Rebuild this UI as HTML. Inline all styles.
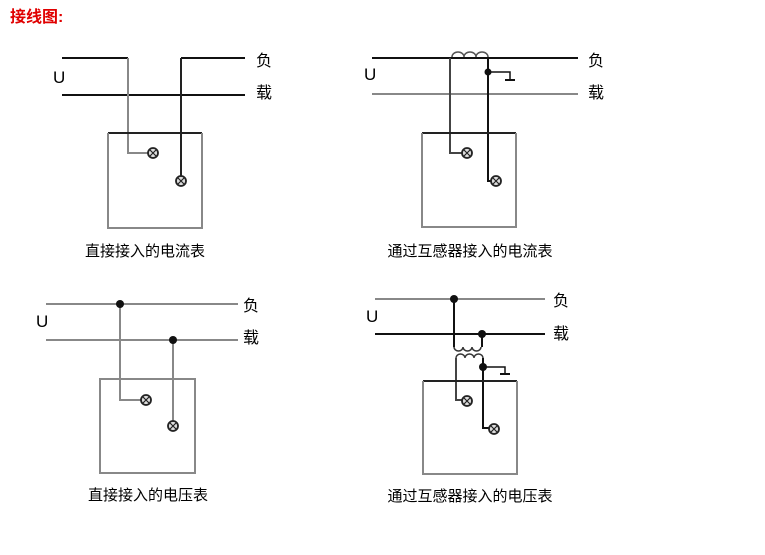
<!DOCTYPE html>
<html><head><meta charset="utf-8"><style>
html,body{margin:0;padding:0;background:#fff;}
svg text{font-family:"Liberation Sans","Noto Sans CJK SC",sans-serif;}
</style></head><body>
<svg width="765" height="550" viewBox="0 0 765 550" xmlns="http://www.w3.org/2000/svg">
<defs>
<g id="term"><circle r="5" fill="#ddd" stroke="#222" stroke-width="1.8"/><path d="M-3,-3L3,3M-3,3L3,-3" stroke="#222" stroke-width="1.2"/></g>
</defs>
<text x="10" y="22" font-size="16" fill="#e00000" font-weight="bold">接线图:</text>

<!-- Diagram 1 -->
<g fill="none" stroke-width="2">
<path d="M62,58H128" stroke="#111"/>
<path d="M181,58H245" stroke="#111"/>
<path d="M62,95H245" stroke="#111"/>
<path d="M128,58V153H150" stroke="#888"/>
<path d="M181,58V177" stroke="#222"/>
<path d="M108,133H202" stroke="#222"/>
<path d="M108,133V228H202V133" stroke="#888"/>
</g>
<use href="#term" x="153" y="153"/><use href="#term" x="181" y="181"/>
<text x="53" y="83" font-size="17">U</text>
<text x="256" y="66" font-size="16">负</text>
<text x="256" y="98" font-size="16">载</text>
<text x="145" y="256" font-size="15" text-anchor="middle">直接接入的电流表</text>

<!-- Diagram 2 -->
<g fill="none" stroke-width="2">
<path d="M372,58H578" stroke="#111"/>
<path d="M372,94H578" stroke="#888"/>
<path d="M452,57a6,5 0 0 1 12,0a6,5 0 0 1 12,0a6,5 0 0 1 12,0" stroke="#555" stroke-width="1.5"/>
<path d="M450,58V153H463" stroke="#444"/>
<path d="M488,58V181H492" stroke="#111"/>
<path d="M488,72H510V79" stroke="#111" stroke-width="1.5"/>
<path d="M505,80H515" stroke="#111" stroke-width="2"/>
<path d="M422,133H516" stroke="#222"/>
<path d="M422,133V227H516V133" stroke="#888"/>
</g>
<circle cx="488" cy="72" r="3.5" fill="#111"/>
<use href="#term" x="467" y="153"/><use href="#term" x="496" y="181"/>
<text x="364" y="80" font-size="17">U</text>
<text x="588" y="66" font-size="16">负</text>
<text x="588" y="98" font-size="16">载</text>
<text x="470" y="256" font-size="15" text-anchor="middle">通过互感器接入的电流表</text>

<!-- Diagram 3 -->
<g fill="none" stroke-width="2">
<path d="M46,304H238" stroke="#888"/>
<path d="M46,340H238" stroke="#888"/>
<path d="M120,304V400H142" stroke="#888"/>
<path d="M173,340V422" stroke="#888"/>
<path d="M100,379H195V473H100Z" stroke="#888"/>
</g>
<circle cx="120" cy="304" r="4" fill="#111"/><circle cx="173" cy="340" r="4" fill="#111"/>
<use href="#term" x="146" y="400"/><use href="#term" x="173" y="426"/>
<text x="36" y="327" font-size="17">U</text>
<text x="243" y="311" font-size="16">负</text>
<text x="243" y="343" font-size="16">载</text>
<text x="148" y="500" font-size="15" text-anchor="middle">直接接入的电压表</text>

<!-- Diagram 4 -->
<g fill="none" stroke-width="2">
<path d="M375,299H545" stroke="#888"/>
<path d="M375,334H545" stroke="#111"/>
<path d="M454,299V347" stroke="#111"/>
<path d="M454,347a4.5,4 0 0 0 9,0a4.5,4 0 0 0 9,0a4.5,4 0 0 0 9,0" stroke="#333" stroke-width="1.5"/>
<path d="M482,334V347" stroke="#111"/>
<path d="M456,358a4.5,4 0 0 1 9,0a4.5,4 0 0 1 9,0a4.5,4 0 0 1 9,0" stroke="#333" stroke-width="1.5"/>
<path d="M456,358V400H463" stroke="#444"/>
<path d="M483,358V428H490" stroke="#111"/>
<path d="M483,367H505V373" stroke="#111" stroke-width="1.5"/>
<path d="M500,374H510" stroke="#111"/>
<path d="M423,381H517" stroke="#222"/>
<path d="M423,381V474H517V381" stroke="#888"/>
</g>
<circle cx="454" cy="299" r="4" fill="#111"/><circle cx="482" cy="334" r="4" fill="#111"/><circle cx="483" cy="367" r="4" fill="#111"/>
<use href="#term" x="467" y="401"/><use href="#term" x="494" y="429"/>
<text x="366" y="322" font-size="17">U</text>
<text x="553" y="306" font-size="16">负</text>
<text x="553" y="339" font-size="16">载</text>
<text x="470" y="501" font-size="15" text-anchor="middle">通过互感器接入的电压表</text>
</svg>
</body></html>
